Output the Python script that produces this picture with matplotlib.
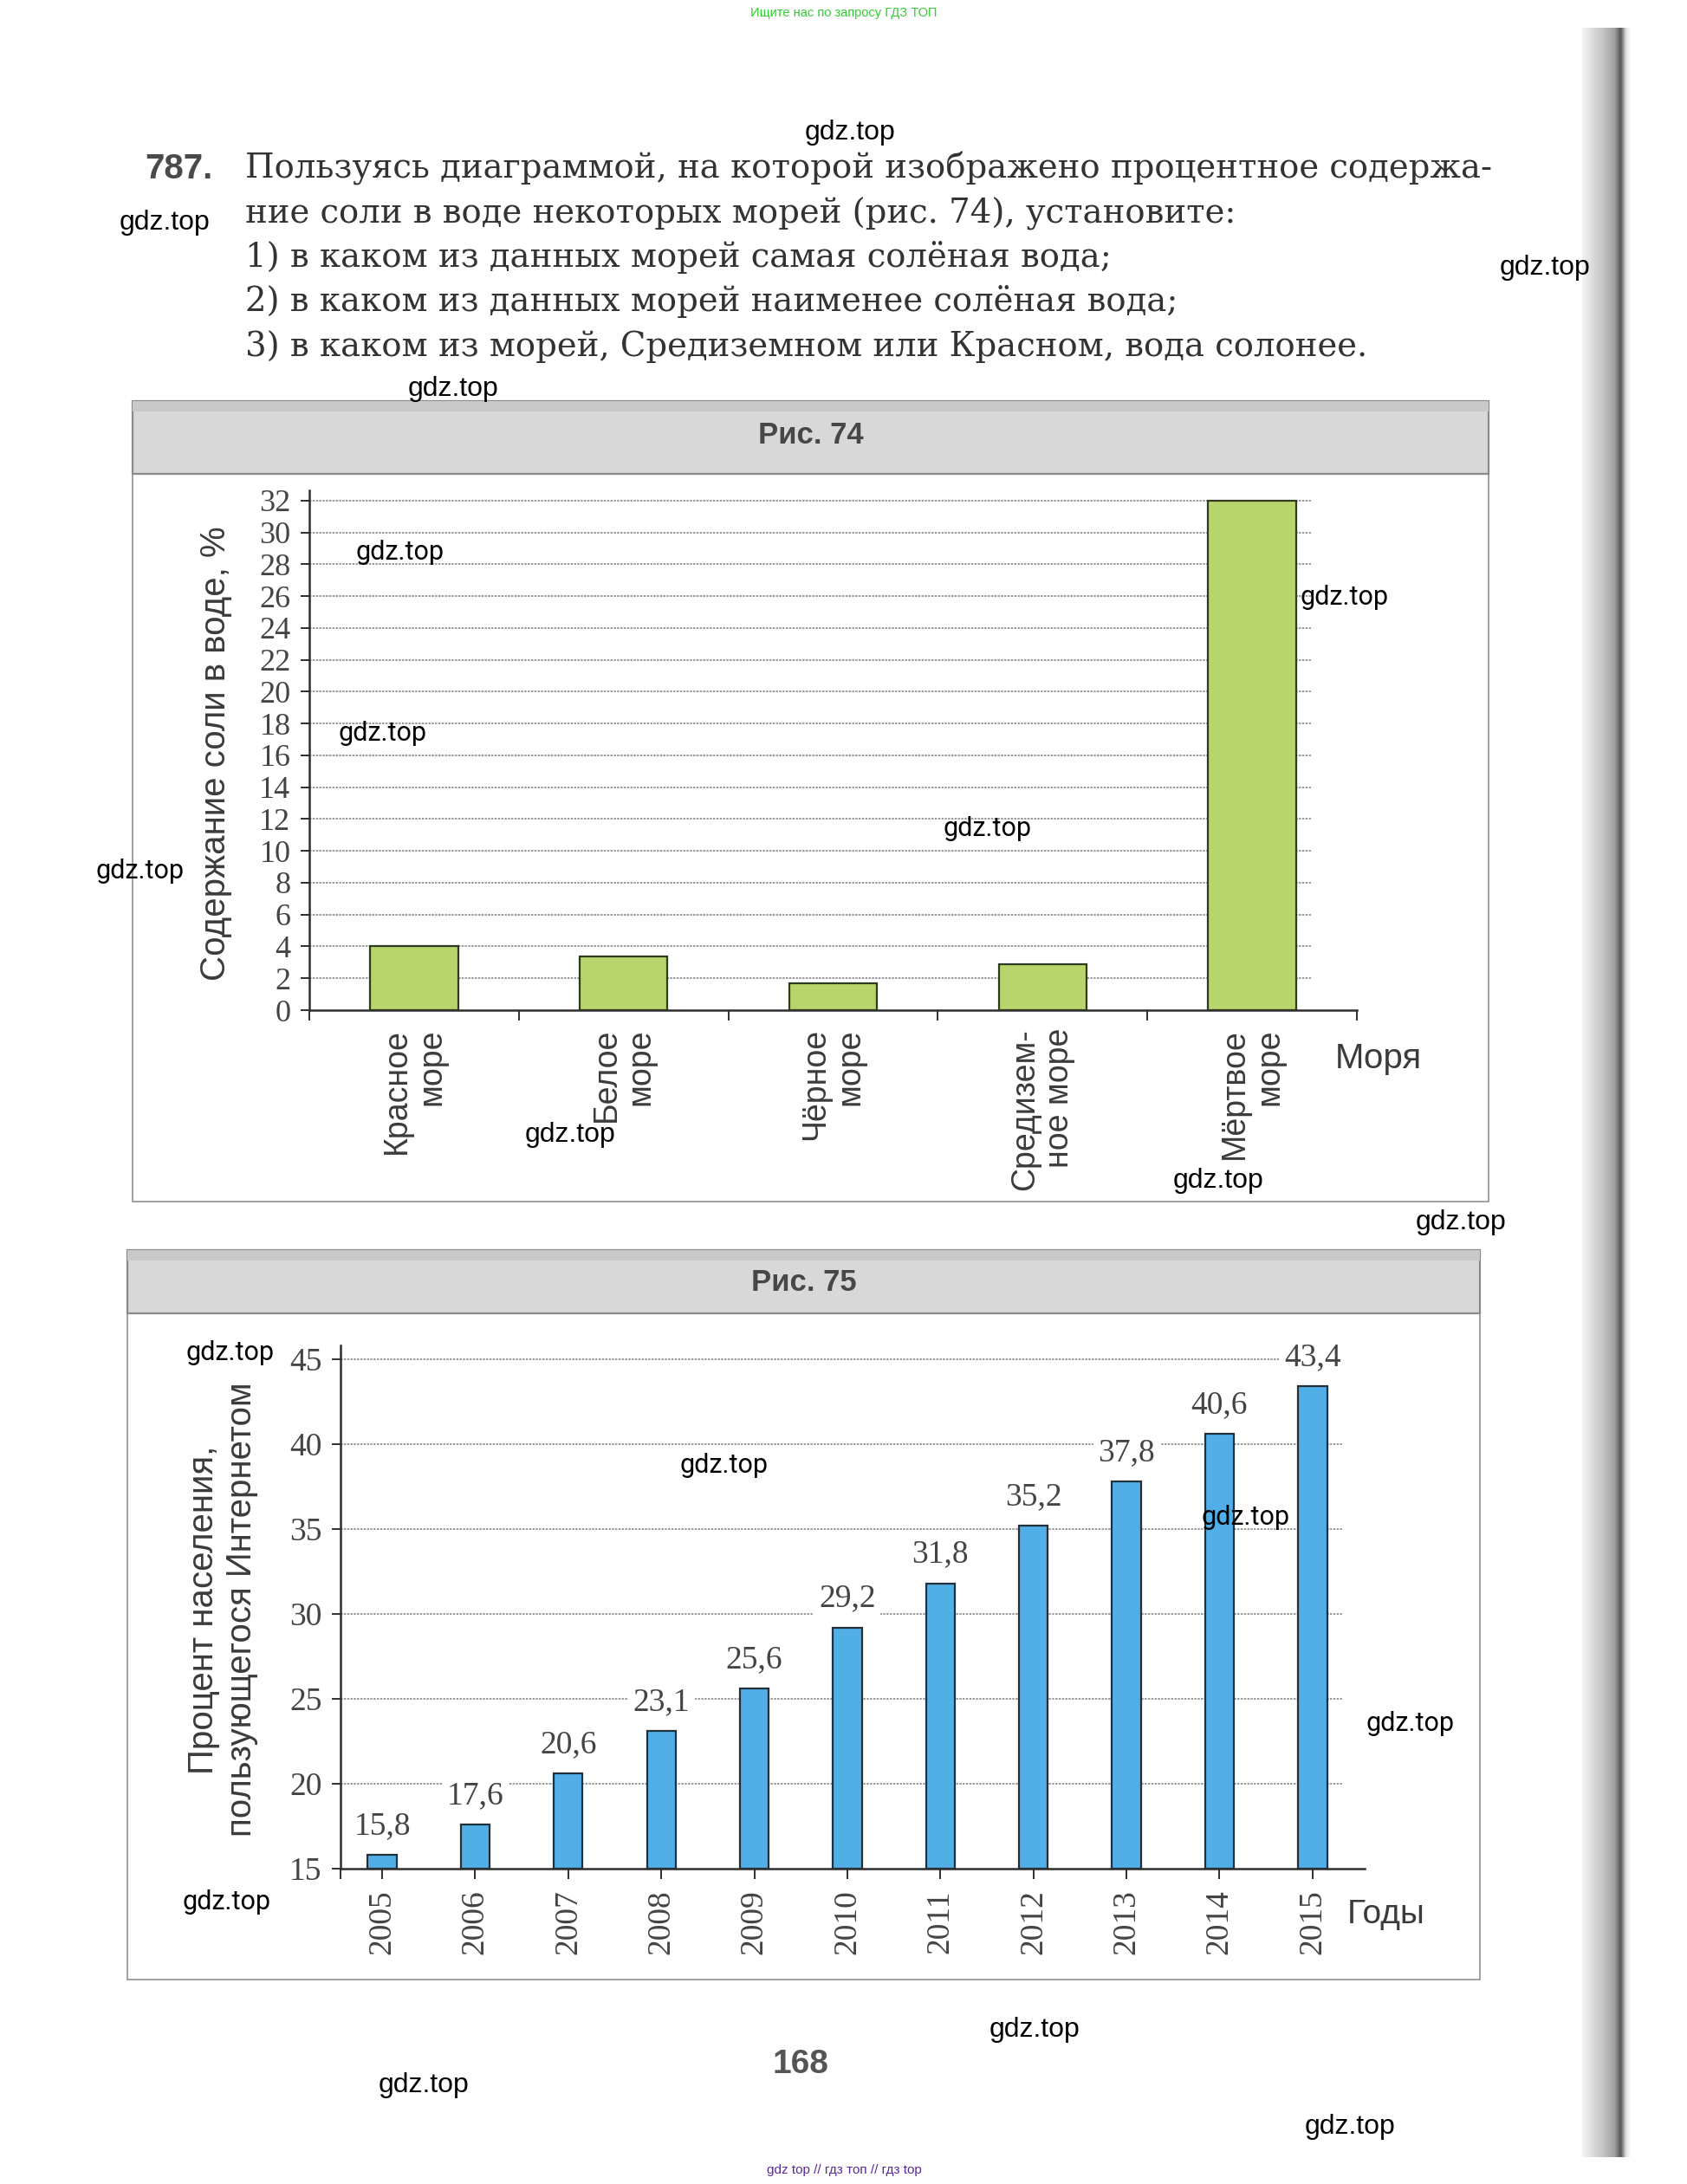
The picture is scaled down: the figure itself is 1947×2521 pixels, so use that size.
import matplotlib
matplotlib.use('Agg')
import matplotlib.pyplot as plt
import matplotlib.transforms as mtransforms
from matplotlib.patches import Rectangle
import numpy as np

# ---------------- data ----------------
seas = ["Красное\nморе", "Белое\nморе", "Чёрное\nморе", "Средизем-\nное море", "Мёртвое\nморе"]
salt = [4.0, 3.4, 1.7, 2.9, 32.0]
salt_ticks = list(range(0, 33, 2))

years = [2005, 2006, 2007, 2008, 2009, 2010, 2011, 2012, 2013, 2014, 2015]
internet = [15.8, 17.6, 20.6, 23.1, 25.6, 29.2, 31.8, 35.2, 37.8, 40.6, 43.4]
internet_ticks = [15, 20, 25, 30, 35, 40, 45]

task_number = "787."
task_lines = [
    "Пользуясь диаграммой, на которой изображено процентное содержа-",
    "ние соли в воде некоторых морей (рис. 74), установите:",
    "1) в каком из данных морей самая солёная вода;",
    "2) в каком из данных морей наименее солёная вода;",
    "3) в каком из морей, Средиземном или Красном, вода солонее.",
]

watermarks = [
    (981, 153, 'n'), (190, 257, 'n'), (1783, 309, 'n'), (523, 449, 'n'),
    (462, 637, 'r'), (1551, 689, 'r'), (442, 846, 'r'), (161, 1006, 'r'),
    (1139, 957, 'r'), (658, 1310, 'n'), (1406, 1363, 'n'), (1686, 1411, 'n'),
    (265, 1562, 'r'), (835, 1691, 'r'), (1438, 1751, 'r'), (1627, 1990, 'r'),
    (262, 2195, 'r'), (1194, 2343, 'n'), (489, 2407, 'n'), (1558, 2455, 'n'),
]

# ---------------- setup ----------------
W, H = 1947, 2521
plt.rcParams['font.family'] = ['Liberation Serif', 'DejaVu Serif']
fig = plt.figure(figsize=(W / 100, H / 100), dpi=100)
fig.patch.set_facecolor('white')

def fx(x):
    return x / W

def fy(y):
    return 1 - y / H

SANS = ['Liberation Sans', 'DejaVu Sans']
NARROW = ['Liberation Sans Narrow', 'Liberation Sans', 'DejaVu Sans']
TXT = '#3b3b3b'
AX = '#2e2e2e'

# ---------------- page text ----------------
fig.text(fx(974), fy(15), "Ищите нас по запросу ГДЗ ТОП", family=NARROW, fontsize=10.5,
         color='#2fcf2f', ha='center', va='center')
fig.text(fx(974), fy(2505), "gdz top // гдз топ // гдз top", family=NARROW, fontsize=11,
         color='#5a2a9a', ha='center', va='center')

baselines = [206, 257, 308, 359, 411]
fig.text(fx(167), fy(baselines[0]), task_number, family=SANS, fontweight='bold',
         fontsize=29, color='#4a4a4a', ha='left', va='baseline')
main_texts = []
for ln, b in zip(task_lines, baselines):
    t = fig.text(fx(283), fy(b), ln, family=['DejaVu Serif'], fontsize=26, color='#333333',
                 ha='left', va='baseline')
    main_texts.append(t)
fig.canvas.draw()
r = fig.canvas.get_renderer()
w0 = main_texts[0].get_window_extent(r).width
fs = 26 * (1722 - 283) / w0
for t in main_texts:
    t.set_fontsize(fs)

fig.text(fx(924), fy(2383), "168", family=SANS, fontweight='bold', fontsize=28,
         color='#555555', ha='center', va='center')

# ---------------- figure frames ----------------
def frame(x0, x1, y0, y1, band_bottom, title, title_y):
    fig.add_artist(Rectangle((fx(x0), fy(y1)), fx(x1) - fx(x0), fy(y0) - fy(y1),
                             transform=fig.transFigure, fill=False, ec='#9a9a9a', lw=1.3))
    fig.add_artist(Rectangle((fx(x0), fy(band_bottom)), fx(x1) - fx(x0), fy(y0) - fy(band_bottom),
                             transform=fig.transFigure, fc='#d8d8d8', ec='#8a8a8a', lw=1.6))
    fig.add_artist(Rectangle((fx(x0), fy(y0 + 12)), fx(x1) - fx(x0), fy(y0) - fy(y0 + 12),
                             transform=fig.transFigure, fc='#c9c9c9', ec='none'))
    fig.text((fx(x0) + fx(x1)) / 2, fy(title_y), title, family=SANS, fontweight='bold',
             fontsize=25, color='#474747', ha='center', va='center')

frame(153, 1718, 463, 1387, 547, "Рис. 74", 503)
frame(147, 1708, 1443, 2285, 1516, "Рис. 75", 1481)

# ---------------- chart 74 ----------------
ax1 = fig.add_axes([fx(357), fy(1166), (1566 - 357) / W, (1166 - 566) / H])
xs = np.arange(len(seas))
ax1.hlines(salt_ticks[1:], -0.5, 4.28, colors='#7d7d7d', linestyles=(0, (1.6, 0.9)),
           lw=1.1, zorder=1)
ax1.bar(xs, salt, width=0.42, color='#b8d56b', edgecolor='#2f3a22', lw=1.6, zorder=3)
ax1.set_xlim(-0.5, 4.5)
ax1.set_ylim(0, 32.65)
ax1.set_yticks(salt_ticks)
ax1.set_yticklabels([str(v) for v in salt_ticks])
ax1.set_xticks(np.arange(-0.5, 4.6, 1.0))
ax1.set_xticklabels([])
ax1.tick_params(axis='y', direction='out', length=7.5, width=1.4, color=AX, pad=8,
                labelsize=26, labelcolor='#444444')
ax1.tick_params(axis='x', direction='out', length=8.5, width=1.4, color=AX)
for s in ['top', 'right']:
    ax1.spines[s].set_visible(False)
for s in ['left', 'bottom']:
    ax1.spines[s].set_color(AX)
    ax1.spines[s].set_linewidth(1.8)
ax1.set_facecolor('none')
tr1 = mtransforms.blended_transform_factory(ax1.transData, ax1.transAxes)
for i, lab in enumerate(seas):
    ax1.text(i, -0.035, lab, transform=tr1, rotation=90, ha='center', va='top',
             multialignment='right', family=SANS, fontsize=27, color=TXT, linespacing=1.15)
fig.text(fx(1591), fy(1222), "Моря", family=SANS, fontsize=29, color=TXT,
         ha='center', va='center')
fig.text(fx(249), fy(870), "Содержание соли в воде, %", family=SANS, fontsize=29,
         color=TXT, rotation=90, ha='center', va='center')

# ---------------- chart 75 ----------------
ax2 = fig.add_axes([fx(393), fy(2157), (1575 - 393) / W, (2157 - 1553) / H])
xi = np.arange(len(years))
x_left = -0.447
ax2.hlines(internet_ticks[1:], x_left, 10.33, colors='#7d7d7d', linestyles=(0, (1.6, 0.9)),
           lw=1.1, zorder=1)
ax2.bar(xi, [v - 15 for v in internet], bottom=15, width=0.31, color='#52aee6',
        edgecolor='#22303a', lw=1.6, zorder=3)
for i, v in enumerate(internet):
    ax2.annotate(f"{v:.1f}".replace('.', ','), (i, v), xytext=(0, 24),
                 textcoords='offset points', ha='center', va='center', fontsize=27,
                 color='#444444', zorder=4,
                 bbox=dict(boxstyle='square,pad=0.15', fc='white', ec='none'))
ax2.set_xlim(x_left, 10.56)
ax2.set_ylim(15, 45.8)
ax2.set_yticks(internet_ticks)
ax2.set_yticklabels([str(v) for v in internet_ticks])
ax2.set_xticks(xi)
ax2.set_xticklabels([str(y) for y in years], rotation=90)
ax2.set_xticks([x_left], minor=True)
ax2.tick_params(axis='y', direction='out', length=7.5, width=1.4, color=AX, pad=8,
                labelsize=27, labelcolor='#444444')
ax2.tick_params(axis='x', which='both', direction='out', length=8.5, width=1.4, color=AX,
                pad=9, labelsize=27, labelcolor='#444444')
for s in ['top', 'right']:
    ax2.spines[s].set_visible(False)
for s in ['left', 'bottom']:
    ax2.spines[s].set_color(AX)
    ax2.spines[s].set_linewidth(1.8)
ax2.set_facecolor('none')
fig.text(fx(257), fy(1858), "Процент населения,\nпользующегося Интернетом", family=SANS,
         fontsize=29, color=TXT, rotation=90, ha='center', va='center',
         multialignment='center', linespacing=1.2)
fig.text(fx(1600), fy(2210), "Годы", family=SANS, fontsize=28, color=TXT,
         ha='center', va='center')

# ---------------- page edge shadow ----------------
sh = fig.add_axes([fx(1826), fy(2490), (1882 - 1826) / W, (2490 - 32) / H])
prof = np.concatenate([np.linspace(0.95, 0.80, 20), np.linspace(0.80, 0.62, 18),
                       np.linspace(0.55, 0.35, 6), np.linspace(0.40, 0.85, 6),
                       np.linspace(0.9, 1.0, 6)])
sh.imshow(np.tile(prof, (10, 1)), cmap='gray', vmin=0, vmax=1, aspect='auto',
          interpolation='bilinear')
sh.axis('off')

# ---------------- watermarks ----------------
for x, y, kind in watermarks:
    if kind == 'r':
        fig.text(fx(x), fy(y), "gdz.top", family=['Roboto', 'DejaVu Sans'], fontsize=22,
                 color='black', ha='center', va='center', zorder=10)
    else:
        fig.text(fx(x), fy(y), "gdz.top", family=NARROW, fontsize=23,
                 color='black', ha='center', va='center', zorder=10)

fig.savefig('out.png', dpi=100, facecolor='white')
